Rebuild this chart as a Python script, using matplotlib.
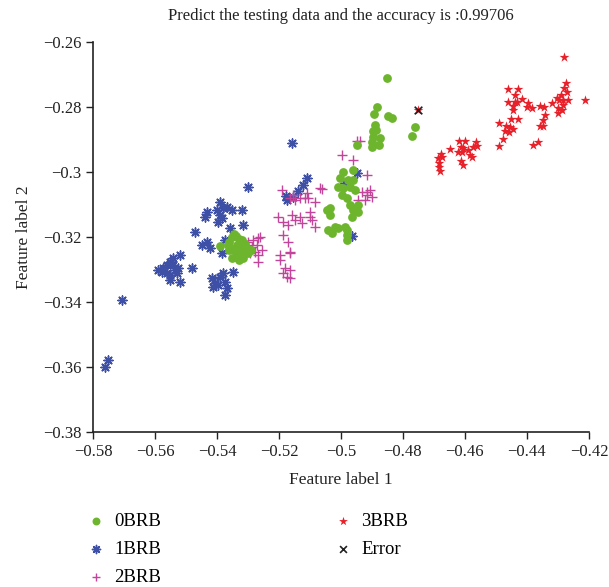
import matplotlib
matplotlib.use("Agg")
import matplotlib.pyplot as plt
from matplotlib.ticker import FixedLocator, FixedFormatter

plt.rcParams["font.family"] = ["Liberation Serif", "DejaVu Serif"]

# class 0BRB
x0 = [-0.5390, -0.5360, -0.5350, -0.5340, -0.5330, -0.5320, -0.5335, -0.5350, -0.5360, -0.5340,
      -0.5320, -0.5310, -0.5300, -0.5310, -0.5325, -0.5340, -0.5350, -0.5330, -0.5300, -0.5290,
      -0.5345, -0.5365, -0.5315,
      -0.4852, -0.4884, -0.4894, -0.4848, -0.4835, -0.4890, -0.4887, -0.4897, -0.4874, -0.4900,
      -0.4877, -0.4900, -0.4948, -0.4761, -0.4771, -0.4895,
      -0.4994, -0.4961, -0.5003, -0.4977, -0.5010, -0.4961, -0.4994, -0.4971, -0.4955, -0.4997,
      -0.4981, -0.4971, -0.4961, -0.4965, -0.4945, -0.4945, -0.5045, -0.5035, -0.5035, -0.5042,
      -0.5019, -0.5029, -0.5010, -0.4987, -0.4981, -0.4981, -0.4981]
y0 = [-0.3228, -0.3215, -0.3200, -0.3195, -0.3205, -0.3210, -0.3225, -0.3235, -0.3240, -0.3245,
      -0.3230, -0.3220, -0.3235, -0.3245, -0.3255, -0.3260, -0.3265, -0.3270, -0.3250, -0.3240,
      -0.3190, -0.3225, -0.3265,
      -0.2711, -0.2800, -0.2822, -0.2828, -0.2834, -0.2855, -0.2871, -0.2892, -0.2895, -0.2908,
      -0.2917, -0.2923, -0.2917, -0.2862, -0.2889, -0.2874,
      -0.3000, -0.2994, -0.3018, -0.3025, -0.3046, -0.3025, -0.3049, -0.3046, -0.3055, -0.3071,
      -0.3080, -0.3102, -0.3117, -0.3138, -0.3102, -0.3123, -0.3117, -0.3111, -0.3132, -0.3178,
      -0.3169, -0.3188, -0.3172, -0.3169, -0.3194, -0.3209, -0.3178]

# class 1BRB
x1 = [-0.5158, -0.5300, -0.5390, -0.5432, -0.5400, -0.5381, -0.5368, -0.5352, -0.5390, -0.5384,
      -0.5397, -0.5439, -0.5319, -0.5316, -0.5358, -0.5471, -0.5448, -0.5432, -0.5423, -0.5374,
      -0.5384, -0.5552, -0.5542, -0.5561, -0.5574, -0.5590, -0.5519, -0.5526, -0.5529, -0.5552,
      -0.5552, -0.5519, -0.5561, -0.5542, -0.5535, -0.5577, -0.5481, -0.5416, -0.5406, -0.5390,
      -0.5381, -0.5374, -0.5397, -0.5368, -0.5348, -0.5374, -0.5413, -0.5706, -0.5761, -0.5752,
      -0.5110, -0.5123, -0.5139, -0.5155, -0.5177, -0.5174, -0.4948, -0.4987, -0.4965]
y1 = [-0.2911, -0.3046, -0.3092, -0.3123, -0.3117, -0.3111, -0.3108, -0.3117, -0.3132, -0.3142,
      -0.3154, -0.3138, -0.3117, -0.3163, -0.3172, -0.3185, -0.3225, -0.3215, -0.3234, -0.3209,
      -0.3249, -0.3277, -0.3286, -0.3286, -0.3295, -0.3302, -0.3255, -0.3295, -0.3311, -0.3317,
      -0.3332, -0.3338, -0.3311, -0.3265, -0.3302, -0.3308, -0.3295, -0.3326, -0.3342, -0.3323,
      -0.3311, -0.3338, -0.3348, -0.3357, -0.3308, -0.3378, -0.3354, -0.3394, -0.3600, -0.3578,
      -0.3018, -0.3040, -0.3058, -0.3077, -0.3074, -0.3086, -0.3003, -0.3034, -0.3197]

# class 2BRB
x2 = [-0.5300, -0.5284, -0.5268, -0.5261, -0.5287, -0.5271, -0.5255, -0.5277, -0.5294, -0.5268,
      -0.5268, -0.5303,
      -0.5190, -0.5155, -0.5148, -0.5132, -0.5110, -0.5106, -0.5084, -0.5068, -0.5061, -0.5164,
      -0.5116, -0.5203, -0.5187, -0.5158, -0.5132, -0.5126, -0.5100, -0.5100, -0.5084, -0.5171,
      -0.5148, -0.5094, -0.5187, -0.5171, -0.5164, -0.5197, -0.5197, -0.5164, -0.5181, -0.5164,
      -0.5187, -0.5164, -0.5174,
      -0.4948, -0.4939, -0.4997, -0.4961, -0.4916, -0.4932, -0.4916, -0.4906, -0.4900, -0.4945,
      -0.4923, -0.4916]
y2 = [-0.3215, -0.3209, -0.3203, -0.3200, -0.3231, -0.3225, -0.3240, -0.3246, -0.3249, -0.3255,
      -0.3277, -0.3225,
      -0.3055, -0.3071, -0.3086, -0.3080, -0.3065, -0.3080, -0.3092, -0.3049, -0.3052, -0.3080,
      -0.3080, -0.3138, -0.3154, -0.3132, -0.3138, -0.3157, -0.3138, -0.3123, -0.3169, -0.3163,
      -0.3148, -0.3148, -0.3194, -0.3215, -0.3246, -0.3255, -0.3271, -0.3249, -0.3295, -0.3302,
      -0.3311, -0.3326, -0.3323,
      -0.2905, -0.2905, -0.2948, -0.2963, -0.3009, -0.3062, -0.3062, -0.3055, -0.3077, -0.3086,
      -0.3086, -0.3071]

# class 3BRB
x3 = [-0.4281, -0.4213, -0.4274, -0.4281, -0.4271, -0.4290, -0.4303, -0.4297, -0.4284, -0.4268,
      -0.4284, -0.4300, -0.4287, -0.4300, -0.4319, -0.4358, -0.4345, -0.4342, -0.4348, -0.4348,
      -0.4358, -0.4365, -0.4381, -0.4384, -0.4397, -0.4400, -0.4461, -0.4429, -0.4439, -0.4461,
      -0.4439, -0.4432, -0.4416, -0.4445, -0.4445, -0.4452, -0.4429, -0.4490, -0.4468, -0.4455,
      -0.4471, -0.4458, -0.4445, -0.4477, -0.4490, -0.4648, -0.4619, -0.4600, -0.4613, -0.4606,
      -0.4610, -0.4623, -0.4590, -0.4574, -0.4565, -0.4561, -0.4584, -0.4577, -0.4613, -0.4606,
      -0.4677, -0.4687, -0.4674, -0.4684, -0.4684, -0.4681, -0.4752]
y3 = [-0.2646, -0.2778, -0.2726, -0.2742, -0.2754, -0.2763, -0.2772, -0.2778, -0.2778, -0.2778,
      -0.2794, -0.2803, -0.2809, -0.2818, -0.2788, -0.2797, -0.2800, -0.2825, -0.2840, -0.2858,
      -0.2858, -0.2908, -0.2917, -0.2803, -0.2788, -0.2800, -0.2745, -0.2745, -0.2763, -0.2785,
      -0.2785, -0.2785, -0.2775, -0.2797, -0.2809, -0.2837, -0.2837, -0.2849, -0.2858, -0.2862,
      -0.2874, -0.2877, -0.2868, -0.2898, -0.2920, -0.2929, -0.2905, -0.2905, -0.2923, -0.2926,
      -0.2938, -0.2938, -0.2932, -0.2923, -0.2908, -0.2920, -0.2948, -0.2954, -0.2966, -0.2978,
      -0.2945, -0.2957, -0.2954, -0.2972, -0.2985, -0.2997, -0.2809]

# misclassified sample
x_err = [-0.4752]
y_err = [-0.2809]

xticks = [-0.58, -0.56, -0.54, -0.52, -0.50, -0.48, -0.46, -0.44, -0.42]
xticklabels = ["\u22120.58", "\u22120.56", "\u22120.54", "\u22120.52", "\u22120.5",
               "\u22120.48", "\u22120.46", "\u22120.44", "\u22120.42"]
yticks = [-0.38, -0.36, -0.34, -0.32, -0.30, -0.28, -0.26]
yticklabels = ["\u22120.38", "\u22120.36", "\u22120.34", "\u22120.32", "\u22120.3",
               "\u22120.28", "\u22120.26"]

fig = plt.figure(figsize=(6.09, 5.87), dpi=100)
ax = fig.add_axes([0.1527, 0.264, 0.8143, 0.664])

green = "#6cb52d"
blue = "#3e4fa6"
pink = "#c2449b"
red = "#e8202a"

ax.scatter(x0, y0, s=40, color=green, marker="o", linewidths=0, label="0BRB", zorder=3)
ax.scatter(x1, y1, s=42, color=blue, marker=(8, 2, 0), linewidths=1.1, label="1BRB", zorder=2)
ax.scatter(x2, y2, s=50, color=pink, marker="+", linewidths=1.0, label="2BRB", zorder=2)
ax.scatter(x3, y3, s=55, color=red, marker="*", linewidths=0, label="3BRB", zorder=2)
ax.scatter(x_err, y_err, s=30, color="#222222", marker="x", linewidths=1.2, label="Error", zorder=4)

ax.set_xlim(-0.58, -0.42)
ax.set_ylim(-0.38, -0.26)
ax.xaxis.set_major_locator(FixedLocator(xticks))
ax.xaxis.set_major_formatter(FixedFormatter(xticklabels))
ax.yaxis.set_major_locator(FixedLocator(yticks))
ax.yaxis.set_major_formatter(FixedFormatter(yticklabels))
ax.tick_params(direction="out", length=5, width=1, labelsize=12, colors="#222222")

for side in ["top", "right"]:
    ax.spines[side].set_visible(False)
for side in ["left", "bottom"]:
    ax.spines[side].set_linewidth(1.2)
    ax.spines[side].set_color("#222222")

ax.set_title("Predict the testing data and the accuracy is :0.99706", fontsize=12, color="#222222", pad=16)
ax.set_xlabel("Feature label 1", fontsize=12.5, color="#222222", labelpad=9)
ax.set_ylabel("Feature label 2", fontsize=12.5, color="#222222", labelpad=8)

fig.legend(loc="upper left", bbox_to_anchor=(0.142, 0.126), ncol=2, frameon=False,
           fontsize=13.5, columnspacing=9.17, handlelength=1.0, handletextpad=0.5,
           labelspacing=0.57, markerscale=0.9, borderaxespad=0, borderpad=0)

fig.savefig("out.png", dpi=100)
